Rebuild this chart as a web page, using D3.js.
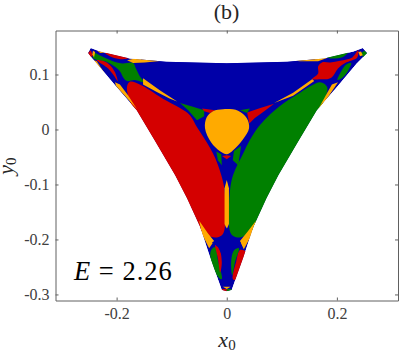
<!DOCTYPE html>
<html lang="en">

<head>
  <meta charset="UTF-8">
  <script src="https://d3js.org/d3.v7.min.js"></script>
  <title>Basins E = 2.26</title>
  <style>
    body { margin: 0; background: #fff; }
    svg { display: block; }
    text { font-family: "Liberation Serif", serif; }
    .axis text { font-size: 16px; fill: #404040; }
    .axis path, .axis line { stroke: #606060; stroke-width: 1px; }
  </style>
</head>

<body>
  <div id="chart"></div>
  <script>
    // Axis ticks
    const xTicks = [-0.2, 0, 0.2];
    const yTicks = [-0.3, -0.2, -0.1, 0, 0.1];

    // Basin outlines, [x0, y0]
    const outline = [[-0.252,0.139],[-0.247,0.148],[-0.230,0.142],[-0.176,0.129],[-0.110,0.123],[0,0.1205],[0.110,0.123],[0.176,0.129],[0.230,0.142],[0.247,0.148],[0.255,0.139],[0.236,0.120],[0.2013,0.0787],[0.1636,0.0351],[0.130,-0.0213],[0.094,-0.083],[0.0722,-0.1249],[0.0485,-0.177],[0.0304,-0.232],[0.009,-0.292],[0,-0.294],[-0.009,-0.292],[-0.0304,-0.232],[-0.0485,-0.177],[-0.0722,-0.1249],[-0.094,-0.083],[-0.130,-0.0213],[-0.1636,0.0351],[-0.2013,0.0787],[-0.236,0.120],[-0.245,0.130]];

    // Big lobes, outer points run past the outline and get clipped
    const blueLobe = [[-0.161,0.1115],[-0.155,0.128],[-0.1085,0.130],[-0.0576,0.128],[0,0.128],[0.057,0.128],[0.1096,0.130],[0.160,0.128],[0.166,0.1115],[0.155,0.095],[0.1205,0.070],[0.088,0.051],[0.0605,0.0405],[0.0296,0.0369],[-0.001,0.036],[-0.028,0.037],[-0.054,0.041],[-0.090,0.051],[-0.121,0.070],[-0.1395,0.0815],[-0.154,0.097]];
    const redLobe = [[-0.1758,0.0869],[-0.158,0.082],[-0.1395,0.0715],[-0.116,0.056],[-0.085,0.039],[-0.067,0.026],[-0.054,0.004],[-0.041,-0.016],[-0.030,-0.034],[-0.021,-0.052],[-0.010,-0.083],[-0.004,-0.110],[-0.003,-0.140],[-0.003,-0.174],[-0.007,-0.190],[-0.016,-0.196],[-0.030,-0.1945],[-0.056,-0.174],[-0.080,-0.121],[-0.102,-0.079],[-0.138,-0.017],[-0.171,0.040],[-0.1813,0.0769]];
    const greenLobe = [[0.1696,0.086],[0.155,0.0805],[0.133,0.067],[0.102,0.047],[0.073,0.022],[0.057,0.004],[0.042,-0.019],[0.030,-0.043],[0.0115,-0.083],[0.006,-0.110],[0.004,-0.140],[0.004,-0.174],[0.008,-0.190],[0.017,-0.196],[0.031,-0.194],[0.058,-0.170],[0.083,-0.121],[0.101,-0.079],[0.136,-0.017],[0.171,0.040],[0.1824,0.0769]];
    const orangeDisk = [[-0.0067,0.0369],[0.0205,0.0342],[0.0364,0.0205],[0.0405,0.0024],[0.0296,-0.0176],[0.0115,-0.0376],[0.0005,-0.0449],[-0.0122,-0.0395],[-0.0285,-0.0231],[-0.0395,0.0024],[-0.0364,0.0224],[-0.0249,0.0333]];

    // Top left corner
    const greenStar = [[-0.241,0.139],[-0.229,0.134],[-0.209,0.125],[-0.190,0.120],[-0.170,0.121],[-0.165,0.111],[-0.158,0.097],[-0.150,0.086],[-0.167,0.090],[-0.181,0.088],[-0.187,0.093],[-0.194,0.106],[-0.207,0.117],[-0.221,0.124],[-0.234,0.126],[-0.243,0.130]];
    const redLensLeft = [[-0.221,0.139],[-0.203,0.138],[-0.176,0.132],[-0.185,0.128],[-0.207,0.131]];
    const orangeTopLeft = [[-0.181,0.126],[-0.158,0.131],[-0.116,0.125],[-0.149,0.122],[-0.170,0.121]];
    const redTip = [[-0.252,0.139],[-0.247,0.144],[-0.243,0.135],[-0.247,0.131]];
    const orangeTipLeft = [[-0.243,0.143],[-0.239,0.141],[-0.241,0.131],[-0.244,0.137]];
    const orangeEdgeTop = [[-0.236,0.144],[-0.221,0.140],[-0.230,0.139]];
    const redCrescentLeft = [[-0.236,0.126],[-0.223,0.124],[-0.212,0.117],[-0.203,0.104],[-0.198,0.088],[-0.207,0.101],[-0.218,0.113]];
    const orangeEdgeLeft = [[-0.241,0.126],[-0.236,0.124],[-0.221,0.101],[-0.227,0.102]];
    const orangeSideLeft = [[-0.203,0.086],[-0.194,0.082],[-0.179,0.062],[-0.163,0.037],[-0.183,0.059],[-0.201,0.079]];
    const orangeMidLeft = [[-0.152,0.093],[-0.121,0.071],[-0.090,0.051],[-0.103,0.056],[-0.127,0.068],[-0.152,0.082]];
    const greenWedge = [[-0.085,0.048],[-0.063,0.042],[-0.041,0.035],[-0.041,0.024],[-0.054,0.017],[-0.070,0.035]];

    // Top right corner
    const redStar = [[0.2385,0.144],[0.228,0.131],[0.206,0.125],[0.188,0.122],[0.173,0.122],[0.166,0.115],[0.166,0.102],[0.155,0.0915],[0.170,0.0915],[0.182,0.0915],[0.191,0.095],[0.202,0.111],[0.215,0.121],[0.237,0.131]];
    const greenLensRight = [[0.182,0.131],[0.197,0.138],[0.221,0.141],[0.211,0.132],[0.193,0.129]];
    const orangeTopRight = [[0.115,0.126],[0.151,0.131],[0.182,0.130],[0.166,0.124],[0.133,0.124]];
    const greenTip = [[0.244,0.139],[0.250,0.143],[0.255,0.139],[0.248,0.131]];
    const orangeTipRight = [[0.239,0.141],[0.244,0.142],[0.247,0.135],[0.242,0.133]];
    const greenCrescentRight = [[0.226,0.121],[0.217,0.118],[0.208,0.106],[0.201,0.090],[0.211,0.095],[0.222,0.110]];
    const orangeSideRight = [[0.202,0.086],[0.191,0.082],[0.181,0.064],[0.166,0.037],[0.184,0.059]];
    const orangeMidRight = [[0.155,0.0915],[0.1205,0.067],[0.086,0.048],[0.1205,0.0615],[0.159,0.088]];
    const redWedge = [[0.037,0.031],[0.061,0.039],[0.086,0.047],[0.068,0.033],[0.051,0.021],[0.041,0.011]];

    // Around the disk
    const redOverDisk = [[-0.045,0.038],[-0.021,0.035],[-0.030,0.030],[-0.041,0.033]];
    const greenOverDisk = [[0.024,0.035],[0.042,0.038],[0.037,0.030]];
    const greenUnderLeft = [[-0.019,-0.040],[-0.010,-0.045],[-0.009,-0.065],[-0.016,-0.056]];
    const redUnderDisk = [[-0.0085,-0.048],[0,-0.047],[0.008,-0.048],[0,-0.054]];
    const greenUnderRight = [[0.013,-0.039],[0.026,-0.030],[0.021,-0.065],[0.011,-0.056]];
    const orangeStrip = [[0,-0.092],[0.004,-0.107],[0.004,-0.172],[0,-0.181],[-0.004,-0.172],[-0.004,-0.107]];

    // Bottom corner
    const orangeLowLeft = [[-0.050,-0.166],[-0.034,-0.189],[-0.023,-0.203],[-0.032,-0.216],[-0.045,-0.190]];
    const orangeLowRight = [[0.053,-0.166],[0.037,-0.187],[0.024,-0.203],[0.031,-0.218],[0.046,-0.190]];
    const greenLowLeft = [[-0.029,-0.221],[-0.021,-0.214],[-0.016,-0.238],[-0.009,-0.272],[-0.014,-0.270],[-0.028,-0.241]];
    const redLowLeft = [[-0.021,-0.209],[-0.014,-0.215],[-0.009,-0.241],[-0.012,-0.260],[-0.016,-0.234]];
    const redLowRight = [[0.036,-0.223],[0.030,-0.243],[0.015,-0.274],[0.011,-0.272],[0.017,-0.241],[0.024,-0.219]];
    const greenLowRight = [[0.022,-0.216],[0.015,-0.241],[0.010,-0.265],[0.008,-0.241],[0.013,-0.220]];
    const blueStar = [[0,-0.1776],[-0.005,-0.192],[-0.012,-0.199],[-0.027,-0.205],[-0.0158,-0.214],[-0.0085,-0.2285],[-0.0049,-0.2522],[-0.0067,-0.2704],[-0.0104,-0.2849],[0.0096,-0.2849],[0.006,-0.2704],[0.0042,-0.2522],[0.0078,-0.2285],[0.0151,-0.214],[0.026,-0.205],[0.013,-0.199],[0.005,-0.192]];
    const orangeBottom = [[-0.007,-0.286],[0.007,-0.286],[0,-0.290]];
    const redBottom = [[-0.009,-0.290],[0,-0.290],[0,-0.294],[-0.006,-0.294]];
    const greenBottom = [[0.009,-0.290],[0,-0.290],[0,-0.294],[0.006,-0.294]];

    const blue = "#0000a8", red = "#d40000", green = "#008000", orange = "#ffaa00";

    const width = 399;
    const height = 351;

    const svg = d3.select("#chart")
      .append("svg")
      .attr("width", width)
      .attr("height", height);

    const x = d3.scaleLinear().domain([-0.311, 0.311]).range([55.5, 398]);
    const y = d3.scaleLinear().domain([-0.311, 0.18]).range([300.5, 30.5]);

    const straight = d3.line().x(d => x(d[0])).y(d => y(d[1])).curve(d3.curveLinearClosed);
    const smooth = d3.line().x(d => x(d[0])).y(d => y(d[1])).curve(d3.curveCatmullRomClosed.alpha(0.5));

    svg.append("clipPath")
      .attr("id", "basin-clip")
      .append("path")
      .attr("d", straight(outline));

    // painted in this order, later ones sit on top
    const layers = [
      [outline, blue, straight],
      [blueLobe, blue, smooth], [redLobe, red, smooth], [greenLobe, green, smooth],
      [greenStar, green, smooth], [redLensLeft, red, smooth], [orangeTopLeft, orange, straight],
      [redTip, red, straight], [orangeTipLeft, orange, straight], [orangeEdgeTop, orange, straight],
      [redCrescentLeft, red, smooth], [orangeEdgeLeft, orange, straight], [orangeSideLeft, orange, straight],
      [orangeMidLeft, orange, straight], [greenWedge, green, straight],
      [redStar, red, smooth], [greenLensRight, green, smooth], [orangeTopRight, orange, straight],
      [greenTip, green, straight], [orangeTipRight, orange, straight], [greenCrescentRight, green, smooth],
      [orangeSideRight, orange, straight], [orangeMidRight, orange, straight], [redWedge, red, straight],
      [redOverDisk, red, straight], [greenOverDisk, green, straight], [greenUnderLeft, green, straight],
      [redUnderDisk, red, straight], [greenUnderRight, green, straight], [orangeStrip, orange, straight],
      [orangeLowLeft, orange, straight], [orangeLowRight, orange, straight],
      [greenLowLeft, green, smooth], [redLowLeft, red, smooth], [redLowRight, red, smooth], [greenLowRight, green, smooth],
      [blueStar, blue, straight], [orangeBottom, orange, straight], [redBottom, red, straight], [greenBottom, green, straight],
      [orangeDisk, orange, smooth]
    ];

    svg.append("g")
      .attr("clip-path", "url(#basin-clip)")
      .selectAll("path")
      .data(layers)
      .enter()
      .append("path")
      .attr("d", d => d[2](d[0]))
      .attr("fill", d => d[1]);

    const label = d => d === 0 ? "0" : String(d);

    svg.append("g").attr("class", "axis")
      .attr("transform", "translate(0,300.5)")
      .call(d3.axisBottom(x).tickValues(xTicks).tickSizeInner(-3).tickSizeOuter(0).tickPadding(7).tickFormat(label));
    svg.append("g").attr("class", "axis")
      .attr("transform", "translate(0,30.5)")
      .call(d3.axisTop(x).tickValues(xTicks).tickSizeInner(-3).tickSizeOuter(0).tickFormat(""));
    svg.append("g").attr("class", "axis")
      .attr("transform", "translate(55.5,0)")
      .call(d3.axisLeft(y).tickValues(yTicks).tickSizeInner(-3).tickSizeOuter(0).tickPadding(6).tickFormat(label));
    svg.append("g").attr("class", "axis")
      .attr("transform", "translate(398,0)")
      .call(d3.axisRight(y).tickValues(yTicks).tickSizeInner(-3).tickSizeOuter(0).tickFormat(""));

    // Title and labels
    svg.append("text")
      .attr("x", 226.5).attr("y", 19)
      .attr("text-anchor", "middle")
      .style("font-size", "22px")
      .attr("fill", "#262626")
      .text("(b)");

    const xLabel = svg.append("text")
      .attr("x", 227).attr("y", 347)
      .attr("text-anchor", "middle")
      .attr("fill", "#262626")
      .style("font-size", "22px");
    xLabel.append("tspan").style("font-style", "italic").text("x");
    xLabel.append("tspan").attr("dy", 3).style("font-size", "15px").text("0");

    const yLabel = svg.append("text")
      .attr("transform", "translate(13,166) rotate(-90)")
      .attr("text-anchor", "middle")
      .attr("fill", "#262626")
      .style("font-size", "22px");
    yLabel.append("tspan").style("font-style", "italic").text("y");
    yLabel.append("tspan").attr("dy", 3).style("font-size", "15px").text("0");

    const energy = svg.append("text")
      .attr("x", 74).attr("y", 280)
      .attr("fill", "#000")
      .style("font-size", "26.5px")
      .style("letter-spacing", "1px");
    energy.append("tspan").style("font-style", "italic").text("E");
    energy.append("tspan").text(" = 2.26");
  </script>
</body>

</html>
